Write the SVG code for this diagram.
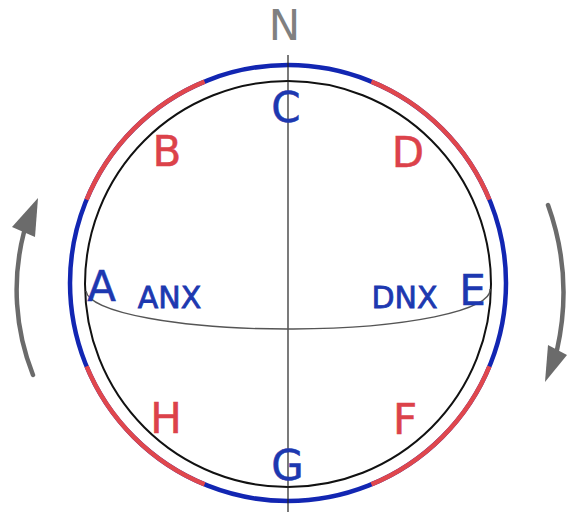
<svg xmlns="http://www.w3.org/2000/svg" width="567" height="512" viewBox="0 0 567 512">
<style>
.lbl{font-family:"DejaVu Sans",sans-serif;font-size:42px;text-anchor:middle;stroke-width:0.5}
.sm{font-family:"DejaVu Sans",sans-serif;font-size:30px;text-anchor:middle;stroke-width:0.8}
.blue{fill:#1d38b0;stroke:#1d38b0}
.red{fill:#dc424a;stroke:#dc424a}
.ringb{fill:none;stroke:#1226b2;stroke-width:4.5}
.ringr{fill:none;stroke:#e0474d;stroke-width:4.5}
.arrow{fill:none;stroke:#6b6b6b;stroke-width:4.5;stroke-linecap:round}
.head{fill:#6b6b6b}
</style>
<rect width="567" height="512" fill="#ffffff"/>
<g id="ring">
<circle cx="288" cy="283" r="218" class="ringb"/>
<path class="ringr" d="M371.43 81.59A218 218 0 0 1 489.41 199.57M489.41 366.43A218 218 0 0 1 371.43 484.41M204.57 484.41A218 218 0 0 1 86.59 366.43M86.59 199.57A218 218 0 0 1 204.57 81.59"/>
</g>
<g id="sphere">
<circle cx="288" cy="284" r="203" fill="none" stroke="#111" stroke-width="2"/>
</g>
<g id="connectors">
<line x1="288" y1="55" x2="288" y2="512" stroke="#222" stroke-width="1.2"/>
<path d="M86 291A202 39 0 0 0 490 289" fill="none" stroke="#555" stroke-width="1.4"/>
<path class="arrow" d="M33 375A230 230 0 0 1 24 232"/>
<polygon class="head" points="38,198 12,227 35,237"/>
<path class="arrow" d="M548 205A260 260 0 0 1 557 350"/>
<polygon class="head" points="545,382 548,345 567,355"/>
</g>
<g id="N"><text class="lbl" x="284.5" y="40" fill="#808080">N</text></g>
<g id="C"><text class="lbl blue" x="286" y="122">C</text></g>
<g id="B"><text class="lbl red" x="167" y="166">B</text></g>
<g id="D"><text class="lbl red" x="408" y="167">D</text></g>
<g id="A"><text class="lbl blue" x="101.5" y="301">A</text></g>
<g id="E"><text class="lbl blue" x="472.5" y="305">E</text></g>
<g id="ANX"><text class="sm blue" x="169.5" y="308">ANX</text></g>
<g id="DNX"><text class="sm blue" x="404.5" y="308">DNX</text></g>
<g id="H"><text class="lbl red" x="166" y="433">H</text></g>
<g id="F"><text class="lbl red" x="405" y="434">F</text></g>
<g id="G"><text class="lbl blue" x="287.5" y="480">G</text></g>
</svg>
